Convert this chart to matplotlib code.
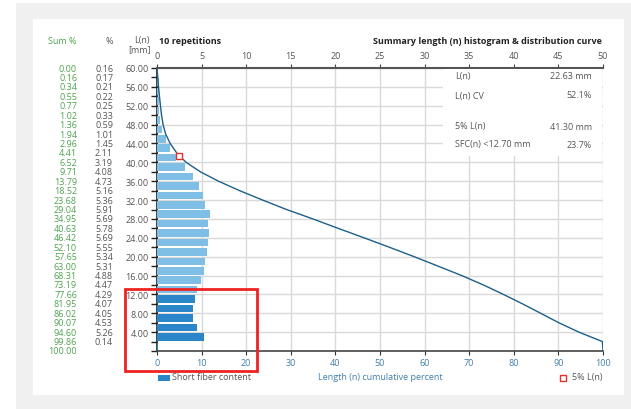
import matplotlib
matplotlib.use("Agg")
import matplotlib.pyplot as plt
from matplotlib.patches import Rectangle
from matplotlib.transforms import blended_transform_factory
import numpy as np

plt.rcParams['font.family'] = ['Open Sans', 'DejaVu Sans']

# ---------------- data ----------------
# length bin upper bounds (mm), from top (60) to bottom (2)
bin_upper = [60, 58, 56, 54, 52, 50, 48, 46, 44, 42, 40, 38, 36, 34, 32, 30,
             28, 26, 24, 22, 20, 18, 16, 14, 12, 10, 8, 6, 4, 2]
bin_pct = [0.16, 0.17, 0.21, 0.22, 0.25, 0.33, 0.59, 1.01, 1.45, 2.11, 3.19,
           4.08, 4.73, 5.16, 5.36, 5.91, 5.69, 5.78, 5.69, 5.55, 5.34, 5.31,
           4.88, 4.47, 4.29, 4.07, 4.05, 4.53, 5.26, 0.14]
# cumulative percent at each boundary, from 60 mm down to 0 mm
boundaries = [60, 58, 56, 54, 52, 50, 48, 46, 44, 42, 40, 38, 36, 34, 32, 30,
              28, 26, 24, 22, 20, 18, 16, 14, 12, 10, 8, 6, 4, 2, 0]
sum_pct = [0.00, 0.16, 0.34, 0.55, 0.77, 1.02, 1.36, 1.94, 2.96, 4.41, 6.52,
           9.71, 13.79, 18.52, 23.68, 29.04, 34.95, 40.63, 46.42, 52.10, 57.65,
           63.00, 68.31, 73.19, 77.66, 81.95, 86.02, 90.07, 94.60, 99.86, 100.00]
sfc_limit = 12.70
p5_pct, p5_len = 5.0, 41.30
stats_labels = ["L(n)", "L(n) CV", "5% L(n)", "SFC(n) <12.70 mm"]
stats_values = ["22.63 mm", "52.1%", "41.30 mm", "23.7%"]
top_ticks = [0, 5, 10, 15, 20, 25, 30, 35, 40, 45, 50]
bottom_ticks = [0, 10, 20, 30, 40, 50, 60, 70, 80, 90, 100]
y_ticks = [4, 8, 12, 16, 20, 24, 28, 32, 36, 40, 44, 48, 52, 56, 60]

# ---------------- styles ----------------
W, H = 631, 410
FS = 6.5
GREEN = '#4fa34f'
GREY = '#555555'
BLUE_TXT = '#3f7fab'
LIGHT = '#7fbfe6'
DARK = '#2b86c9'
LINE = '#1d5f8a'
GRID = '#d9d9d9'

fig = plt.figure(figsize=(W / 100, H / 100), dpi=100)
fig.patch.set_facecolor('white')
# grey frame & white panel
fig.patches.append(Rectangle((16 / W, 0), 1 - 16 / W, 1 - 4 / H, transform=fig.transFigure,
                             facecolor='#f0f0f0', edgecolor='none', zorder=-10))
fig.patches.append(Rectangle((33 / W, 1 - 396 / H), (624 - 33) / W, (396 - 20) / H,
                             transform=fig.transFigure, facecolor='white',
                             edgecolor='none', zorder=-9))

x0, x1, y0, y1 = 157, 603, 69, 352
ax = fig.add_axes([x0 / W, 1 - y1 / H, (x1 - x0) / W, (y1 - y0) / H])
ax.set_facecolor('none')
ax2 = ax.twiny()

ax.set_xlim(0, 50)
ax.set_ylim(0, 60)

# bars
centers = [u - 1 for u in bin_upper]
colors = [DARK if u <= sfc_limit else LIGHT for u in bin_upper]
ax.barh(centers, bin_pct, height=1.6, color=colors, edgecolor='none', zorder=3)

# grid / ticks
ax.set_xticks(top_ticks)
ax.set_yticks(y_ticks)
ax.set_yticks(np.arange(0, 61, 2), minor=True)
ax.set_yticklabels([f"{v:.2f}" for v in y_ticks])
ax.grid(True, which='major', color=GRID, linewidth=1.0, zorder=0)
ax.set_axisbelow(True)

ax.xaxis.tick_top()
ax.tick_params(axis='x', which='both', top=True, bottom=False, labeltop=True,
               labelbottom=False, colors='#444444', labelcolor=GREY, labelsize=FS,
               length=3, pad=3)
ax.tick_params(axis='y', which='both', left=True, colors='#222222', labelcolor=GREY,
               labelsize=FS, length=4, pad=2, width=1)
for s in ['right', 'bottom']:
    ax.spines[s].set_visible(False)
ax.spines['top'].set_color('#555555')
ax.spines['top'].set_linewidth(1.5)
ax.spines['left'].set_color('#222222')
ax.spines['left'].set_linewidth(1.2)

# cumulative curve on bottom axis
ax2.set_xlim(0, 100)
ax2.set_ylim(0, 60)
ax2.xaxis.tick_bottom()
ax2.xaxis.set_label_position('bottom')
ax2.set_xticks(bottom_ticks)
ax2.tick_params(axis='x', top=False, bottom=True, labeltop=False, labelbottom=True,
                colors='#333333', labelcolor=BLUE_TXT, labelsize=FS, length=3, pad=2)
for s in ['top', 'right', 'left']:
    ax2.spines[s].set_visible(False)
ax2.spines['bottom'].set_color('#444444')
ax2.spines['bottom'].set_linewidth(1.2)
ax2.plot(sum_pct, boundaries, color=LINE, linewidth=1.0, zorder=4)
ax2.plot([p5_pct], [p5_len], marker='s', markersize=5, markerfacecolor='white',
         markeredgecolor='#e53030', markeredgewidth=1.0, linestyle='none', zorder=5)
ax2.set_xlabel("Length (n) cumulative percent", color=BLUE_TXT, fontsize=FS, labelpad=4)

# stats box (white patch over grid)
bx0 = (443 - x0) / (x1 - x0)
by0 = (y1 - 157) / (y1 - y0)
ax2.add_patch(Rectangle((bx0, by0), 1 - bx0 - 0.002, 1 - by0 - 0.004, transform=ax2.transAxes,
                        facecolor='white', edgecolor='none', zorder=2))
row_y = [77, 96, 127, 145]
for lab, val, yy in zip(stats_labels, stats_values, row_y):
    fig.text(455 / W, 1 - yy / H, lab, fontsize=FS, color=GREY, va='center', ha='left')
    fig.text(592 / W, 1 - yy / H, val, fontsize=FS, color=GREY, va='center', ha='right')

# left text columns
tr = blended_transform_factory(fig.transFigure, ax.transData)
for b, s in zip(boundaries, sum_pct):
    ax.text(77 / W, b, f"{s:.2f}", transform=tr, fontsize=FS, color=GREEN,
            ha='right', va='center', clip_on=False)
for u, p in zip(bin_upper, bin_pct):
    ax.text(113 / W, u, f"{p:.2f}", transform=tr, fontsize=FS, color=GREY,
            ha='right', va='center', clip_on=False)

# headers
fig.text(77 / W, 1 - 42 / H, "Sum %", fontsize=FS, color=GREEN, ha='right', va='center')
fig.text(113 / W, 1 - 42 / H, "%", fontsize=FS, color=GREY, ha='right', va='center')
fig.text(150 / W, 1 - 41 / H, "L(n)", fontsize=FS, color=GREY, ha='right', va='center')
fig.text(151 / W, 1 - 50 / H, "[mm]", fontsize=FS, color=GREY, ha='right', va='center')
fig.text(159 / W, 1 - 41 / H, "10 repetitions", fontsize=FS, color='#222222',
         fontweight='bold', ha='left', va='center')
fig.text(602 / W, 1 - 41 / H, "Summary length (n) histogram & distribution curve",
         fontsize=FS, color='#222222', fontweight='bold', ha='right', va='center')

# legends
fig.patches.append(Rectangle((158 / W, 1 - 382 / H), 12 / W, 6 / H, transform=fig.transFigure,
                             facecolor=DARK, edgecolor='none'))
fig.text(172 / W, 1 - 378 / H, "Short fiber content", fontsize=FS, color=GREY,
         ha='left', va='center')
fig.patches.append(Rectangle((560 / W, 1 - 381.5 / H), 6 / W, 6 / H, transform=fig.transFigure,
                             facecolor='white', edgecolor='#e53030', linewidth=1.0))
fig.text(572 / W, 1 - 378 / H, "5% L(n)", fontsize=FS, color=GREY, ha='left', va='center')

# red highlight box
fig.patches.append(Rectangle((125 / W, 1 - 372 / H), (257 - 125) / W, (372 - 290) / H,
                             transform=fig.transFigure, facecolor='none',
                             edgecolor='#ee2222', linewidth=2.0, zorder=20))

fig.savefig("out.png", dpi=100)
